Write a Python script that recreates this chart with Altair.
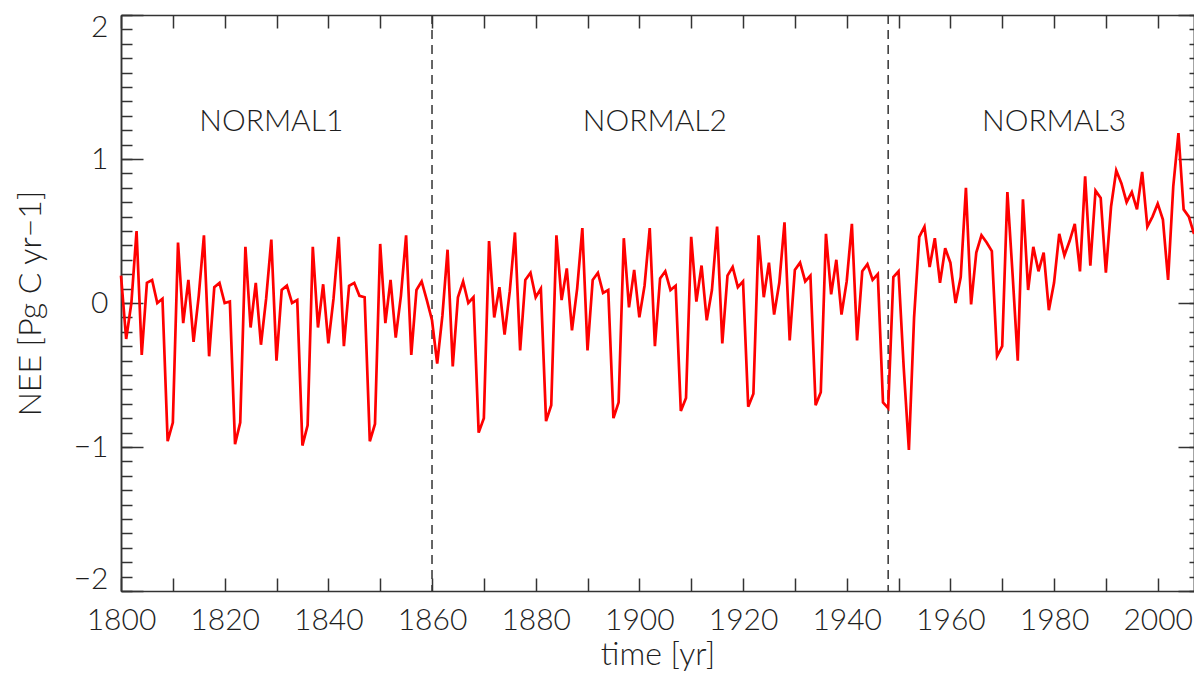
import altair as alt
import pandas as pd

# ---------------- data ----------------
years = list(range(1800, 2008))

nee_normal1 = [  # 1800-1859
    0.19, -0.25, 0.00, 0.50, -0.36, 0.14, 0.16, 0.00, 0.03, -0.96,
    -0.83, 0.42, -0.14, 0.16, -0.27, 0.05, 0.47, -0.37, 0.11, 0.14,
    0.00, 0.01, -0.98, -0.83, 0.39, -0.17, 0.14, -0.29, 0.03, 0.44,
    -0.40, 0.09, 0.12, 0.00, 0.02, -0.99, -0.85, 0.39, -0.17, 0.13,
    -0.28, 0.03, 0.46, -0.30, 0.12, 0.14, 0.05, 0.04, -0.96, -0.84,
    0.41, -0.14, 0.16, -0.24, 0.05, 0.47, -0.36, 0.09, 0.15, 0.02,
]
nee_normal2 = [  # 1860-1947
    -0.12, -0.42, -0.09, 0.37, -0.44, 0.04, 0.15, 0.00, 0.04, -0.90,
    -0.80, 0.43, -0.10, 0.11, -0.22, 0.08, 0.49, -0.33, 0.16, 0.21,
    0.04, 0.10, -0.82, -0.71, 0.47, 0.02, 0.24, -0.19, 0.10, 0.52,
    -0.33, 0.16, 0.21, 0.07, 0.09, -0.80, -0.69, 0.45, -0.03, 0.23,
    -0.10, 0.12, 0.52, -0.30, 0.17, 0.22, 0.09, 0.12, -0.75, -0.66,
    0.46, 0.01, 0.26, -0.12, 0.09, 0.53, -0.28, 0.19, 0.25, 0.11,
    0.15, -0.72, -0.63, 0.47, 0.04, 0.28, -0.08, 0.14, 0.56, -0.26,
    0.23, 0.28, 0.15, 0.19, -0.71, -0.62, 0.48, 0.06, 0.30, -0.08,
    0.15, 0.55, -0.26, 0.22, 0.27, 0.16, 0.20, -0.69,
]
nee_normal3 = [  # 1948-2007
    -0.73, 0.18, 0.22, -0.45, -1.02, -0.10, 0.46, 0.53, 0.25, 0.45,
    0.14, 0.38, 0.28, 0.00, 0.18, 0.80, -0.01, 0.35, 0.47, 0.42,
    0.36, -0.37, -0.30, 0.77, 0.20, -0.40, 0.72, 0.09, 0.39, 0.22,
    0.35, -0.05, 0.14, 0.48, 0.33, 0.43, 0.55, 0.22, 0.88, 0.26,
    0.78, 0.73, 0.21, 0.67, 0.92, 0.83, 0.70, 0.77, 0.65, 0.91,
    0.53, 0.60, 0.69, 0.58, 0.16, 0.81, 1.18, 0.65, 0.60, 0.48,
]
nee = nee_normal1 + nee_normal2 + nee_normal3

period_bounds = [1860, 1948]
period_names = ["NORMAL1", "NORMAL2", "NORMAL3"]
period_label_year = [1829, 1903, 1980]
period_label_nee = [1.26, 1.26, 1.26]

x_ticks = list(range(1800, 2001, 10))
y_major = [-2, -1, 0, 1, 2]
y_minor = [round(-2 + 0.1 * i, 1) for i in range(41)]

# ---------------- styling ----------------
FONT = "Lato"
TXT = "#1e1e1e"
AX = "#333333"
FS = 30
TFS = 32

df = pd.DataFrame({"year": years, "nee": nee})
df_bounds = pd.DataFrame({"year": period_bounds})
df_labels = pd.DataFrame({"year": period_label_year, "nee": period_label_nee, "name": period_names})

xscale = alt.Scale(domain=[1800, 2007], nice=False, zero=False)
yscale = alt.Scale(domain=[-2, 2], nice=False, zero=False)

common = dict(grid=False, domainColor=AX, domainWidth=1.5, tickColor=AX, tickWidth=1.5,
              labelFont=FONT, labelFontSize=FS, labelFontWeight=300, labelColor=TXT,
              titleFont=FONT, titleFontSize=TFS, titleFontWeight=300, titleColor=TXT)

x_bottom = alt.Axis(orient="bottom", values=x_ticks, format="d",
                    labelExpr="datum.value % 20 == 0 ? datum.label : ''",
                    tickSize={"expr": "-13"}, labelPadding=13 + 14, labelFlush=False,
                    title="time [yr]", titleY=63, titleBaseline="middle", **common)
y_left = alt.Axis(orient="left", values=y_major, tickSize={"expr": "-22"},
                  labelPadding=22 + 13, labelFlush=True, labelFlushOffset=3,
                  title="NEE [Pg C yr−1]", titleX=-91, titleBaseline="middle",
                  titleAngle=270, **common)

x_top = alt.Axis(orient="top", values=x_ticks, labels=False, tickSize={"expr": "-13"},
                 title=None, **common)
y_left_minor = alt.Axis(orient="left", values=y_minor, labels=False,
                        tickSize={"expr": "-11"}, title=None, **common)
y_right = alt.Axis(orient="right", values=y_major, labels=False,
                   tickSize={"expr": "-16"}, title=None, **common)
y_right_minor = alt.Axis(orient="right", values=y_minor, labels=False,
                         tickSize={"expr": "-5"}, title=None, **common)

line = alt.Chart(df).mark_line(color="#ff0000", strokeWidth=2.7).encode(
    x=alt.X("year:Q", scale=xscale, axis=x_bottom),
    y=alt.Y("nee:Q", scale=yscale, axis=y_left),
)

ghost1 = alt.Chart(df).mark_line(strokeOpacity=0).encode(
    x=alt.X("year:Q", scale=xscale, axis=x_top),
    y=alt.Y("nee:Q", scale=yscale, axis=y_left_minor),
)
ghost2 = alt.Chart(df).mark_line(strokeOpacity=0).encode(
    x=alt.X("year:Q", scale=xscale, axis=None),
    y=alt.Y("nee:Q", scale=yscale, axis=y_right),
)
ghost3 = alt.Chart(df).mark_line(strokeOpacity=0).encode(
    x=alt.X("year:Q", scale=xscale, axis=None),
    y=alt.Y("nee:Q", scale=yscale, axis=y_right_minor),
)

bounds = alt.Chart(df_bounds).mark_rule(color=AX, strokeWidth=1.5, strokeDash=[9, 6]).encode(
    x=alt.X("year:Q", scale=xscale, axis=None),
)

labels = alt.Chart(df_labels).mark_text(font=FONT, fontSize=FS, fontWeight=300, color=TXT,
                                        align="center", baseline="middle").encode(
    x=alt.X("year:Q", scale=xscale, axis=None),
    y=alt.Y("nee:Q", scale=yscale, axis=None),
    text="name:N",
)

chart = alt.layer(bounds, line, ghost1, ghost2, ghost3, labels).resolve_axis(
    x="independent", y="independent"
).properties(
    width=1073, height=576,
    autosize=alt.AutoSizeParams(type="none"),
    padding={"left": 113, "top": 7, "right": 0, "bottom": 84},
    background="white",
).configure_view(strokeWidth=0)

chart.save("out.html", embed_options={"renderer": "svg", "actions": False})
